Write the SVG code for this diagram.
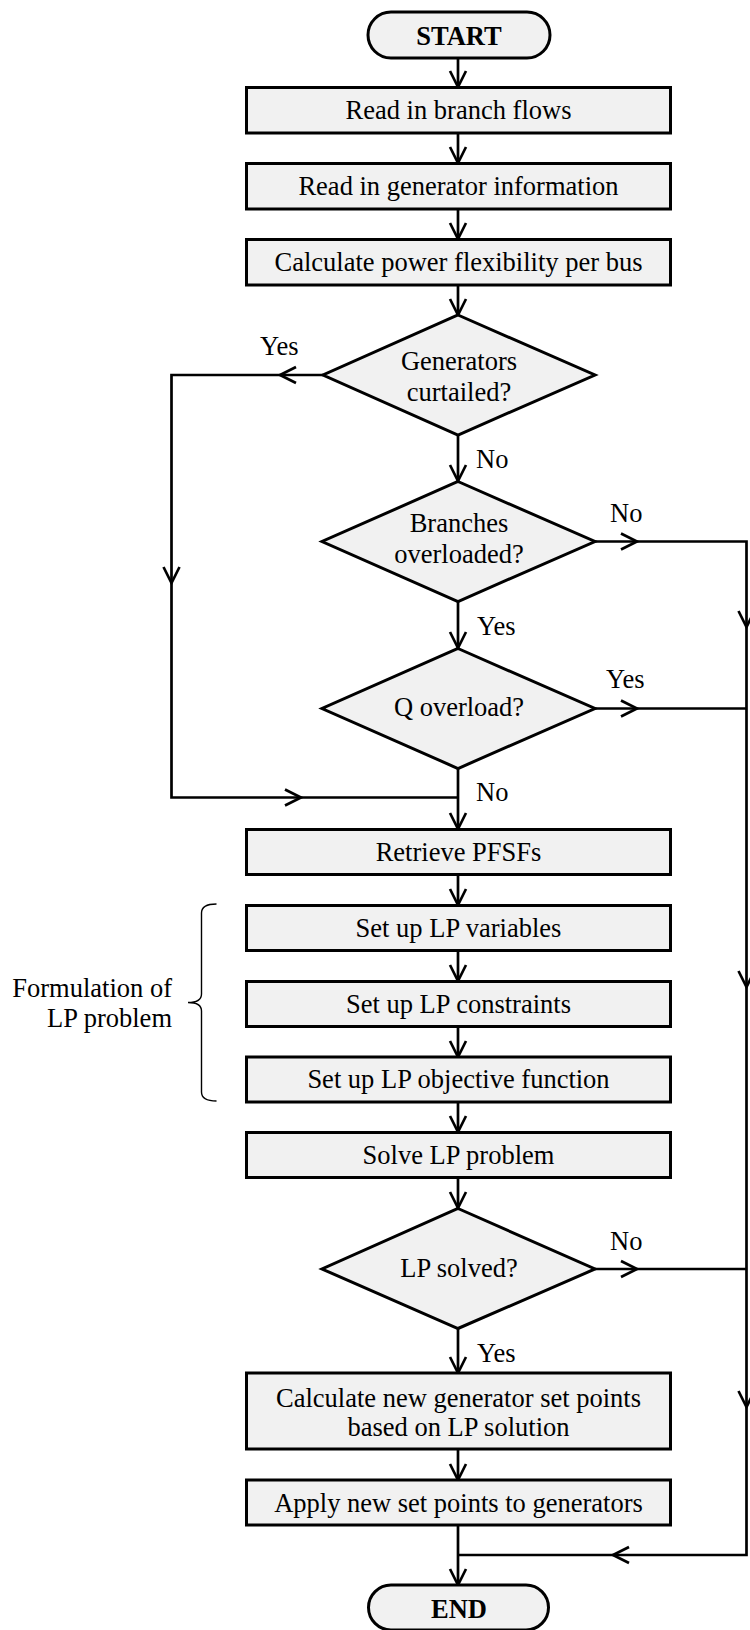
<svg xmlns="http://www.w3.org/2000/svg" width="750" height="1630" viewBox="0 0 750 1630">
  <style>
    .shape { fill: #f1f1f1; stroke: #000; stroke-width: 3; }
    .txt { font-family: "Liberation Serif", "Times New Roman", serif; font-size: 26.5px; fill: #000; }
    .mid { text-anchor: middle; }
    .bold { font-weight: bold; }
    .line { fill: none; stroke: #000; stroke-width: 2.7; }
    .head { fill: none; stroke: #000; stroke-width: 2.7; stroke-linejoin: miter; }
    .brace { fill: none; stroke: #000; stroke-width: 1.4; }
  </style>
  <defs>
    <!-- open V arrowhead pointing down, tip at origin -->
    <path id="vdown" class="head" d="M -8 -16 L 0 0 L 8 -16"/>
  </defs>
  <rect width="750" height="1630" fill="#fff"/>

  <!-- connectors -->
  <g id="connectors">
    <!-- main spine -->
    <path class="line" d="M 458 58 V 87"/>
    <use href="#vdown" x="458" y="87"/>
    <path class="line" d="M 458 133 V 163"/>
    <use href="#vdown" x="458" y="163"/>
    <path class="line" d="M 458 209 V 239"/>
    <use href="#vdown" x="458" y="239"/>
    <path class="line" d="M 458 285 V 315"/>
    <use href="#vdown" x="458" y="315"/>
    <path class="line" d="M 458 435 V 481"/>
    <use href="#vdown" x="458" y="481"/>
    <path class="line" d="M 458 602 V 648"/>
    <use href="#vdown" x="458" y="648"/>
    <path class="line" d="M 458 768 V 829"/>
    <use href="#vdown" x="458" y="829"/>
    <path class="line" d="M 458 874 V 905"/>
    <use href="#vdown" x="458" y="905"/>
    <path class="line" d="M 458 950 V 981"/>
    <use href="#vdown" x="458" y="981"/>
    <path class="line" d="M 458 1026 V 1057"/>
    <use href="#vdown" x="458" y="1057"/>
    <path class="line" d="M 458 1102 V 1132"/>
    <use href="#vdown" x="458" y="1132"/>
    <path class="line" d="M 458 1177 V 1208"/>
    <use href="#vdown" x="458" y="1208"/>
    <path class="line" d="M 458 1328 V 1373"/>
    <use href="#vdown" x="458" y="1373"/>
    <path class="line" d="M 458 1449 V 1480"/>
    <use href="#vdown" x="458" y="1480"/>
    <path class="line" d="M 458 1525 V 1585"/>
    <use href="#vdown" x="458" y="1585"/>

    <!-- Generators curtailed: Yes loop on the left -->
    <path class="line" d="M 323 375 H 171.5 V 797.5 H 458"/>
    <use href="#vdown" transform="translate(280 375) rotate(90)"/>
    <use href="#vdown" x="171.5" y="583"/>
    <use href="#vdown" transform="translate(301 797.5) rotate(-90)"/>

    <!-- skip path on the right -->
    <path class="line" d="M 595 541.5 H 746.5 V 1555 H 458"/>
    <path class="line" d="M 595 708.5 H 746.5"/>
    <path class="line" d="M 595 1269 H 746.5"/>
    <use href="#vdown" transform="translate(637 541.5) rotate(-90)"/>
    <use href="#vdown" transform="translate(637 708.5) rotate(-90)"/>
    <use href="#vdown" transform="translate(637 1269) rotate(-90)"/>
    <use href="#vdown" x="746.5" y="627"/>
    <use href="#vdown" x="746.5" y="987"/>
    <use href="#vdown" x="746.5" y="1407"/>
    <use href="#vdown" transform="translate(613 1555) rotate(90)"/>
  </g>

  <!-- branch labels -->
  <g id="labels" class="txt">
    <text x="260" y="355">Yes</text>
    <text x="476" y="468">No</text>
    <text x="610" y="522">No</text>
    <text x="477" y="635">Yes</text>
    <text x="606" y="688">Yes</text>
    <text x="476" y="801">No</text>
    <text x="610" y="1250">No</text>
    <text x="477" y="1362">Yes</text>
  </g>

  <!-- nodes -->
  <g id="start">
    <rect class="shape" x="368" y="12" width="182" height="46" rx="23"/>
    <text class="txt mid bold" x="459" y="45">START</text>
  </g>
  <g id="read-branch-flows">
    <rect class="shape" x="246.5" y="87.5" width="424" height="45.5"/>
    <text class="txt mid" x="458.5" y="119">Read in branch flows</text>
  </g>
  <g id="read-generator-info">
    <rect class="shape" x="246.5" y="163.5" width="424" height="45.5"/>
    <text class="txt mid" x="458.5" y="195">Read in generator information</text>
  </g>
  <g id="calc-flexibility">
    <rect class="shape" x="246.5" y="239.5" width="424" height="45.5"/>
    <text class="txt mid" x="458.5" y="271">Calculate power flexibility per bus</text>
  </g>
  <g id="generators-curtailed">
    <polygon class="shape" points="458,315 595,375 458,435 323,375"/>
    <text class="txt mid" x="459" y="370">Generators</text>
    <text class="txt mid" x="459" y="401">curtailed?</text>
  </g>
  <g id="branches-overloaded">
    <polygon class="shape" points="458,481.5 595,541.5 458,601.5 322,541.5"/>
    <text class="txt mid" x="459" y="532">Branches</text>
    <text class="txt mid" x="459" y="563">overloaded?</text>
  </g>
  <g id="q-overload">
    <polygon class="shape" points="458,648.5 595,708.5 458,768.5 322,708.5"/>
    <text class="txt mid" x="459" y="716">Q overload?</text>
  </g>
  <g id="retrieve-pfsfs">
    <rect class="shape" x="246.5" y="829.5" width="424" height="45"/>
    <text class="txt mid" x="458.5" y="861">Retrieve PFSFs</text>
  </g>
  <g id="lp-variables">
    <rect class="shape" x="246.5" y="905.5" width="424" height="45"/>
    <text class="txt mid" x="458.5" y="937">Set up LP variables</text>
  </g>
  <g id="lp-constraints">
    <rect class="shape" x="246.5" y="981.5" width="424" height="45"/>
    <text class="txt mid" x="458.5" y="1013">Set up LP constraints</text>
  </g>
  <g id="lp-objective">
    <rect class="shape" x="246.5" y="1057" width="424" height="45"/>
    <text class="txt mid" x="458.5" y="1088">Set up LP objective function</text>
  </g>
  <g id="solve-lp">
    <rect class="shape" x="246.5" y="1132.5" width="424" height="45"/>
    <text class="txt mid" x="458.5" y="1164">Solve LP problem</text>
  </g>
  <g id="lp-solved">
    <polygon class="shape" points="458,1208.5 595,1269 458,1328.5 322,1269"/>
    <text class="txt mid" x="459" y="1277">LP solved?</text>
  </g>
  <g id="new-set-points">
    <rect class="shape" x="246.5" y="1373" width="424" height="76"/>
    <text class="txt mid" x="458.5" y="1407">Calculate new generator set points</text>
    <text class="txt mid" x="458.5" y="1436">based on LP solution</text>
  </g>
  <g id="apply-set-points">
    <rect class="shape" x="246.5" y="1480" width="424" height="45"/>
    <text class="txt mid" x="458.5" y="1512">Apply new set points to generators</text>
  </g>
  <g id="end">
    <rect class="shape" x="368.5" y="1585" width="180" height="45" rx="22.5"/>
    <text class="txt mid bold" x="459" y="1618">END</text>
  </g>

  <!-- brace grouping the LP formulation steps -->
  <g id="formulation-note">
    <path class="brace" d="M 216.5 904 Q 201.5 904 201.5 913 L 201.5 994 Q 201.5 1002.5 188 1002.5 Q 201.5 1002.5 201.5 1011 L 201.5 1092 Q 201.5 1101 216.5 1101"/>
    <text class="txt" x="172" y="997" text-anchor="end">Formulation of</text>
    <text class="txt" x="172" y="1027" text-anchor="end">LP problem</text>
  </g>
</svg>
